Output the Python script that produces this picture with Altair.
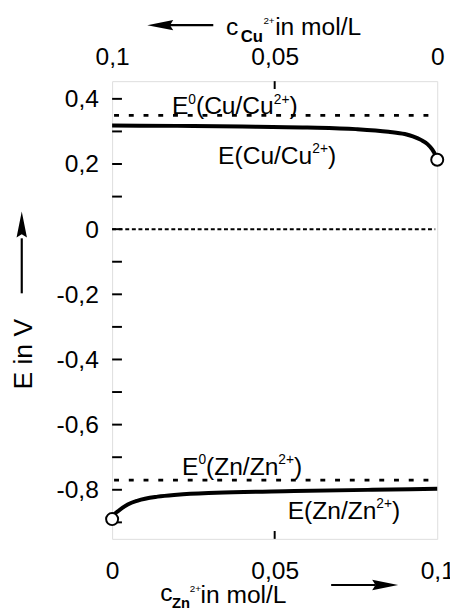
import altair as alt
import pandas as pd

# ---- data ----
# Zn/Zn2+ half cell: c(Zn2+) in mol/L (bottom axis), E in V
zn_c = [0, 0.0005, 0.0018, 0.0048, 0.0079, 0.014, 0.02, 0.032, 0.056, 0.08, 0.1]
zn_E = [-0.89, -0.878, -0.866, -0.845, -0.833, -0.821, -0.815, -0.809, -0.804, -0.8, -0.797]
# Cu/Cu2+ half cell: c(Cu2+) in mol/L (top axis, reversed), E in V
cu_c = [0.1, 0.08, 0.06, 0.04, 0.025, 0.015, 0.01, 0.0075, 0.005, 0.003, 0.0015, 0.0005, 0]
cu_E = [0.318, 0.317, 0.315, 0.312, 0.307, 0.299, 0.292, 0.285, 0.274, 0.261, 0.244, 0.226, 0.213]
# standard potentials and reference line
e0_names = ["Cu", "Zn"]
e0_values = [0.349, -0.77]
ref_value = [0]
# open circles (end points)
zn_end_c, zn_end_E = [0], [-0.89]
cu_end_c, cu_end_E = [0], [0.213]
# axis ticks / labels
y_label_values = [-0.8, -0.6, -0.4, -0.2, 0, 0.2, 0.4]
y_tick_values = [-0.9, -0.8, -0.7, -0.6, -0.5, -0.4, -0.3, -0.2, -0.1, 0, 0.1, 0.2, 0.3, 0.4]
x_label_values = [0, 0.05, 0.1]
x_tick_values = [0.05]
# curve labels: (is standard potential, element), anchor position
lab_std = [True, False, True, False]
lab_el = ["Cu", "Cu", "Zn", "Zn"]
lab_x = [0.0184, 0.0326, 0.0215, 0.054]
lab_E = [0.352, 0.201, -0.754, -0.89]

W, H = 331, 466
FONT = "Liberation Sans"
FS = 25
SUP = 14

# Arial/Liberation Sans advance widths (em)
ADV = {"E": .667, "(": .333, ")": .333, "C": .722, "u": .556, "/": .278, "Z": .611,
       "n": .556, "0": .556, "2": .556, "+": .584}


def width(s, size):
    return sum(ADV[ch] for ch in s) * size


zn_df = pd.DataFrame({"c": zn_c, "E": zn_E})
cu_df = pd.DataFrame({"c": cu_c, "E": cu_E})
e0_df = pd.DataFrame({"name": e0_names, "E": e0_values})
ref_df = pd.DataFrame({"E": ref_value})
zn_end = pd.DataFrame({"c": zn_end_c, "E": zn_end_E})
cu_end = pd.DataFrame({"c": cu_end_c, "E": cu_end_E})
yt_df = pd.DataFrame({"t": y_tick_values})
xt_df = pd.DataFrame({"t": x_tick_values})
one = pd.DataFrame({"a": [0]})

xs = alt.Scale(domain=[0, 0.1], nice=False, zero=False)
xs_rev = alt.Scale(domain=[0, 0.1], nice=False, zero=False, reverse=True)
ys = alt.Scale(domain=[-0.9507, 0.4543], nice=False, zero=False)

lbl = "replace(toString(datum.value), '.', ',')"
common = dict(ticks=False, domain=False, grid=False, title=None, labelFont=FONT,
              labelFontSize=FS, labelColor="black", labelFlush=False, labelOverlap=False,
              labelExpr=lbl)
y_axis = alt.Axis(orient="left", values=y_label_values, labelPadding=14, **common)
x_bottom = alt.Axis(orient="bottom", values=x_label_values, labelPadding=20, **common)
x_top = alt.Axis(orient="top", values=x_label_values, labelPadding=12, **common)

Y = lambda f: alt.Y(f, scale=ys, axis=y_axis)
X = lambda f: alt.X(f, scale=xs, axis=None)

layers = []

# frame ticks (inward)
layers.append(alt.Chart(yt_df).mark_rule(color="black", strokeWidth=2).encode(
    y=Y("t:Q"), x=alt.value(0), x2=alt.value(10)))
layers.append(alt.Chart(xt_df).mark_rule(color="black", strokeWidth=2).encode(
    x=X("t:Q"), y=alt.value(H), y2=alt.value(H - 8)))
layers.append(alt.Chart(xt_df).mark_rule(color="black", strokeWidth=2).encode(
    x=X("t:Q"), y=alt.value(0), y2=alt.value(8)))

# dotted lines
layers.append(alt.Chart(e0_df).mark_rule(color="black", strokeWidth=2.8, strokeDash=[5, 10]).encode(
    y=Y("E:Q"), x=alt.value(2), x2=alt.value(W - 2)))
layers.append(alt.Chart(ref_df).mark_rule(color="black", strokeWidth=2, strokeDash=[4, 2.7]).encode(
    y=Y("E:Q"), x=alt.value(0), x2=alt.value(W - 2)))

# curves
layers.append(alt.Chart(zn_df).mark_line(color="black", strokeWidth=4, interpolate="monotone").encode(
    x=alt.X("c:Q", scale=xs, axis=x_bottom), y=Y("E:Q")))
layers.append(alt.Chart(cu_df).mark_line(color="black", strokeWidth=4, interpolate="monotone").encode(
    x=alt.X("c:Q", scale=xs_rev, axis=x_top), y=Y("E:Q")))

# end circles
pt = dict(shape="circle", filled=True, fill="white", stroke="black", strokeWidth=2, size=150, opacity=1)
layers.append(alt.Chart(zn_end).mark_point(**pt).encode(x=X("c:Q"), y=Y("E:Q")))
layers.append(alt.Chart(cu_end).mark_point(**pt).encode(
    x=alt.X("c:Q", scale=xs_rev, axis=None), y=Y("E:Q")))

# curve labels built from pieces (main text + superscripts)
for std, el, cx, ce in zip(lab_std, lab_el, lab_x, lab_E):
    pieces = [("E", FS, 0)]
    if std:
        pieces.append(("0", SUP, -11))
    pieces += [("(" + el + "/" + el, FS, 0), ("2+", SUP, -11), (")", FS, 0)]
    pos_df = pd.DataFrame({"c": [cx], "E": [ce]})
    off = 0.0
    for s, size, dy in pieces:
        layers.append(alt.Chart(pos_df).mark_text(
            text=s, font=FONT, fontSize=size, align="left", baseline="alphabetic",
            color="black", dx=off, dy=dy).encode(x=X("c:Q"), y=Y("E:Q")))
        off += width(s, size)


def txt(s, x, y, size=FS, bold=False, angle=None, align="left", baseline="alphabetic"):
    kw = dict(text=s, font=FONT, fontSize=size, align=align, baseline=baseline, color="black",
              fontWeight="bold" if bold else "normal")
    if angle is not None:
        kw["angle"] = angle
    return alt.Chart(one).mark_text(**kw).encode(x=alt.value(x), y=alt.value(y))


def seg(x1, y1, x2, y2, w=2.2):
    return alt.Chart(one).mark_rule(color="black", strokeWidth=w).encode(
        x=alt.value(x1), x2=alt.value(x2), y=alt.value(y1), y2=alt.value(y2))


def head(x, y, angle):
    return alt.Chart(one).mark_point(shape="M1,0L-1,-0.4L-0.75,0L-1,0.4Z", filled=True, color="black",
                                     size=700, angle=angle, opacity=1).encode(
        x=alt.value(x), y=alt.value(y))


# top axis title: c Cu2+ in mol/L  with arrow to the left
layers += [txt("c", 116, -47), txt("Cu", 131, -40, size=17, bold=True), txt("2+", 154, -58, size=10),
           txt("in mol/L", 166, -47),
           seg(58, -57, 103, -57), head(49, -57, 180)]
# bottom axis title: c Zn2+ in mol/L with arrow to the right
layers += [txt("c", 49, 529), txt("Zn", 61, 536, size=15, bold=True), txt("2+", 79, 520, size=10),
           txt("in mol/L", 90, 531),
           seg(223, 513, 268, 513), head(278, 513, 0)]
# y axis title: E in V with arrow upwards
layers += [txt("E in V", -90, 278, size=27, angle=270, align="center", baseline="middle"),
           seg(-92, 160, -92, 216), head(-92, 146, 270)]

chart = alt.layer(*layers).resolve_scale(x="independent").properties(
    width=W, height=H,
    autosize=alt.AutoSizeParams(type="none"),
    padding={"left": 106, "top": 69, "right": 13, "bottom": 71},
).configure_view(stroke="black", strokeWidth=2.5).configure(background="white")

chart.save("out.html", embed_options={"renderer": "svg", "actions": False})
